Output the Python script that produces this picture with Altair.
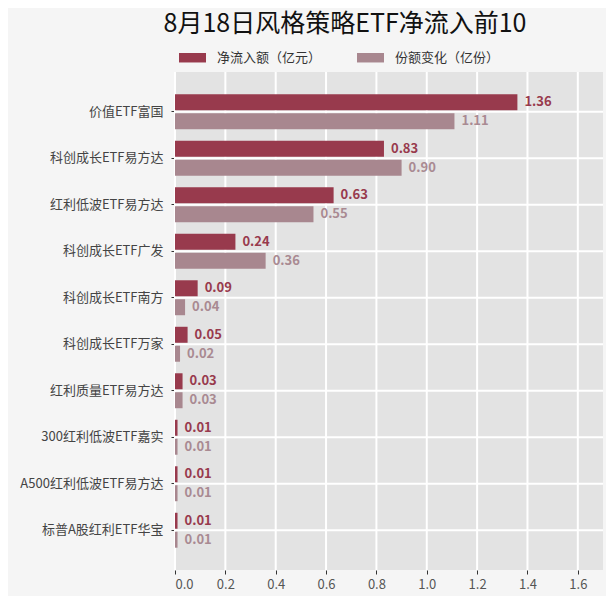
import altair as alt
import pandas as pd

categories = ["价值ETF富国", "科创成长ETF易方达", "红利低波ETF易方达", "科创成长ETF广发",
              "科创成长ETF南方", "科创成长ETF万家", "红利质量ETF易方达", "300红利低波ETF嘉实",
              "A500红利低波ETF易方达", "标普A股红利ETF华宝"]
net_inflow = [1.36, 0.83, 0.63, 0.24, 0.09, 0.05, 0.03, 0.01, 0.01, 0.01]
share_change = [1.11, 0.90, 0.55, 0.36, 0.04, 0.02, 0.03, 0.01, 0.01, 0.01]
series = ["净流入额（亿元）", "份额变化（亿份）"]
colors = ["#983a4d", "#a8878f"]
text_colors = ["#983a4d", "#a98a92"]
x_ticks = [0, 0.2, 0.4, 0.6, 0.8, 1.0, 1.2, 1.4, 1.6]

rows = []
for c, a, b in zip(categories, net_inflow, share_change):
    rows.append({"name": c, "series": series[0], "value": a, "label": f"{a:.2f}"})
    rows.append({"name": c, "series": series[1], "value": b, "label": f"{b:.2f}"})
df = pd.DataFrame(rows)
vgrid = pd.DataFrame({"value": x_ticks})
hgrid = pd.DataFrame({"name": categories})

FONT = "Noto Sans CJK SC"
W, H = 428, 498

y_enc = alt.Y("name:N", sort=categories, title=None,
              scale=alt.Scale(paddingInner=0.25, paddingOuter=0.48),
              axis=alt.Axis(bandPosition=0.5, grid=False))
x_enc = alt.X("value:Q", title=None,
              scale=alt.Scale(domain=[0, 1.7], nice=False),
              axis=alt.Axis(values=x_ticks, format=".1f", grid=False))
yoff = alt.YOffset("series:N", sort=series, scale=alt.Scale(paddingInner=0.16, paddingOuter=0))

vlines = alt.Chart(vgrid).mark_rule(color="#ffffff", strokeWidth=2, opacity=1).encode(x=x_enc)
hlines = alt.Chart(hgrid).mark_rule(color="#ffffff", strokeWidth=2, opacity=1).encode(
    y=y_enc, x=alt.value(0), x2=alt.value(W))

bars = alt.Chart(df).mark_bar(size=16).encode(
    y=y_enc, x=x_enc, yOffset=yoff,
    color=alt.Color("series:N", sort=series,
                    scale=alt.Scale(domain=series, range=colors),
                    legend=alt.Legend(orient="none", legendX=4, legendY=-28, direction="horizontal",
                                      title=None, symbolType="M-1,-0.35L1,-0.35L1,0.35L-1,0.35Z",
                                      symbolSize=729, symbolStrokeWidth=0, labelFont=FONT,
                                      labelFontSize=13, labelColor="#333333", labelOffset=11,
                                      columnPadding=35)),
)

texts = alt.Chart(df).mark_text(align="left", baseline="middle", dx=7, font=FONT,
                                fontSize=13, fontWeight="bold").encode(
    y=y_enc, x=x_enc, yOffset=yoff,
    text="label:N",
    color=alt.Color("series:N", sort=series,
                    scale=alt.Scale(domain=series, range=text_colors), legend=None),
)

chart = alt.layer(vlines, hlines, bars, texts).resolve_scale(color="independent").properties(
    width=W, height=H,
    autosize=alt.AutoSizeParams(type="none"),
    padding={"left": 167, "top": 64, "right": 3, "bottom": 26},
    background="#f5f5f5",
    title=alt.TitleParams("8月18日风格策略ETF净流入前10", font=FONT, fontSize=25,
                          fontWeight="normal", color="#111111", anchor="middle",
                          frame="group", dx=-44, offset=7),
).configure_view(fill="#e3e3e3", stroke=None).configure_axis(
    domain=False, tickColor="#333333", tickSize=4, labelFont=FONT, labelFontSize=13,
).configure_axisY(labelColor="#444444", labelPadding=8).configure_axisX(
    labelColor="#555555", labelPadding=4)

chart.save("out.html", embed_options={"renderer": "svg", "actions": False})
